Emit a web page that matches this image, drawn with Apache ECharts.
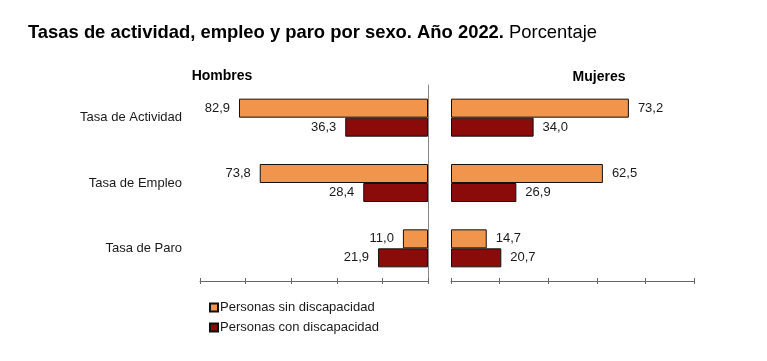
<!DOCTYPE html>
<html>
<head>
<meta charset="utf-8">
<script src="https://cdn.jsdelivr.net/npm/echarts@6/dist/echarts.min.js"></script>
<style>
html,body{margin:0;padding:0;background:#fff;}
#c{width:767px;height:361px;}
</style>
</head>
<body>
<div id="c"></div>
<script>
var categories = ['Tasa de Actividad', 'Tasa de Empleo', 'Tasa de Paro'];
var seriesNames = ['Personas sin discapacidad', 'Personas con discapacidad'];
var hombresSin = [82.9, 73.8, 11.0];
var hombresCon = [36.3, 28.4, 21.9];
var mujeresSin = [73.2, 62.5, 14.7];
var mujeresCon = [34.0, 26.9, 20.7];
var panelTitles = ['Hombres', 'Mujeres'];

var ORANGE = '#F0954B', DARK = '#8B0A0A';
var fmt = function (p) { return p.value.toFixed(1).replace('.', ','); };
var font = 'Liberation Sans, Arial, sans-serif';

function xAx(grid, inverse, outer) {
  return {
    type: 'value', gridIndex: grid, min: 0, max: 100, interval: 20, inverse: inverse,
    position: 'bottom',
    axisLine: { show: outer, onZero: false, lineStyle: { color: '#666', width: 1 } },
    axisTick: { show: true, inside: !outer, length: 3, lineStyle: { color: '#666' } },
    axisLabel: { show: false }, splitLine: { show: false }
  };
}
function bar(name, grid, data, color, pos) {
  return {
    type: 'bar', name: name, xAxisIndex: grid * 2, yAxisIndex: grid === 0 ? 0 : 2,
    data: data, barWidth: 19, barGap: '0%',
    itemStyle: { color: color, borderColor: '#111', borderWidth: 1 },
    label: { show: true, position: pos, distance: 9, formatter: fmt,
      color: '#1a1a1a', fontSize: 13, fontFamily: font },
    silent: true, animation: false
  };
}

var chart = echarts.init(document.getElementById('c'), null, { renderer: 'canvas' });
chart.setOption({
  animation: false,
  backgroundColor: '#fff',
  title: [
    { left: 28, top: 24, padding: 0, text: '{b|Tasas de actividad, empleo y paro por sexo. Año 2022.}{n| Porcentaje}',
      textStyle: { rich: {
        b: { fontFamily: font, fontWeight: 'bold', fontSize: 18.4, color: '#000' },
        n: { fontFamily: font, fontWeight: 'normal', fontSize: 18.4, color: '#000' } } } },
    { left: 222, top: 69, padding: 0, textAlign: 'center', text: panelTitles[0],
      textStyle: { fontFamily: font, fontWeight: 'bold', fontSize: 14, color: '#000' } },
    { left: 599, top: 70, padding: 0, textAlign: 'center', text: panelTitles[1],
      textStyle: { fontFamily: font, fontWeight: 'bold', fontSize: 14, color: '#000' } }
  ],
  legend: {
    orient: 'vertical', left: 209, top: 301, padding: 0, itemWidth: 8, itemHeight: 8, itemGap: 7,
    icon: 'rect',
    data: seriesNames, selectedMode: false,
    textStyle: { fontFamily: font, fontSize: 13, color: '#1a1a1a', padding: [0, 0, 0, -3] }
  },
  grid: [
    { left: 200, width: 228, top: 85, height: 196, containLabel: false },
    { left: 451, width: 243, top: 85, height: 196, containLabel: false }
  ],
  xAxis: [xAx(0, true, true), xAx(0, true, false), xAx(1, false, true), xAx(1, false, false)],
  yAxis: [
    { type: 'category', gridIndex: 0, data: categories, inverse: true, position: 'right',
      axisLine: { show: true, onZero: false, lineStyle: { color: '#888' } },
      axisTick: { show: false }, axisLabel: { show: false } },
    { type: 'category', gridIndex: 0, data: categories, inverse: true, position: 'left', offset: 0,
      axisLine: { show: false }, axisTick: { show: false },
      axisLabel: { show: true, margin: 18, fontFamily: font, fontSize: 13, color: '#1a1a1a' } },
    { type: 'category', gridIndex: 1, data: categories, inverse: true,
      axisLine: { show: false }, axisTick: { show: false }, axisLabel: { show: false } }
  ],
  series: [
    bar(seriesNames[0], 0, hombresSin, ORANGE, 'left'),
    bar(seriesNames[1], 0, hombresCon, DARK, 'left'),
    bar(seriesNames[0], 1, mujeresSin, ORANGE, 'right'),
    bar(seriesNames[1], 1, mujeresCon, DARK, 'right')
  ]
});
</script>
</body>
</html>
